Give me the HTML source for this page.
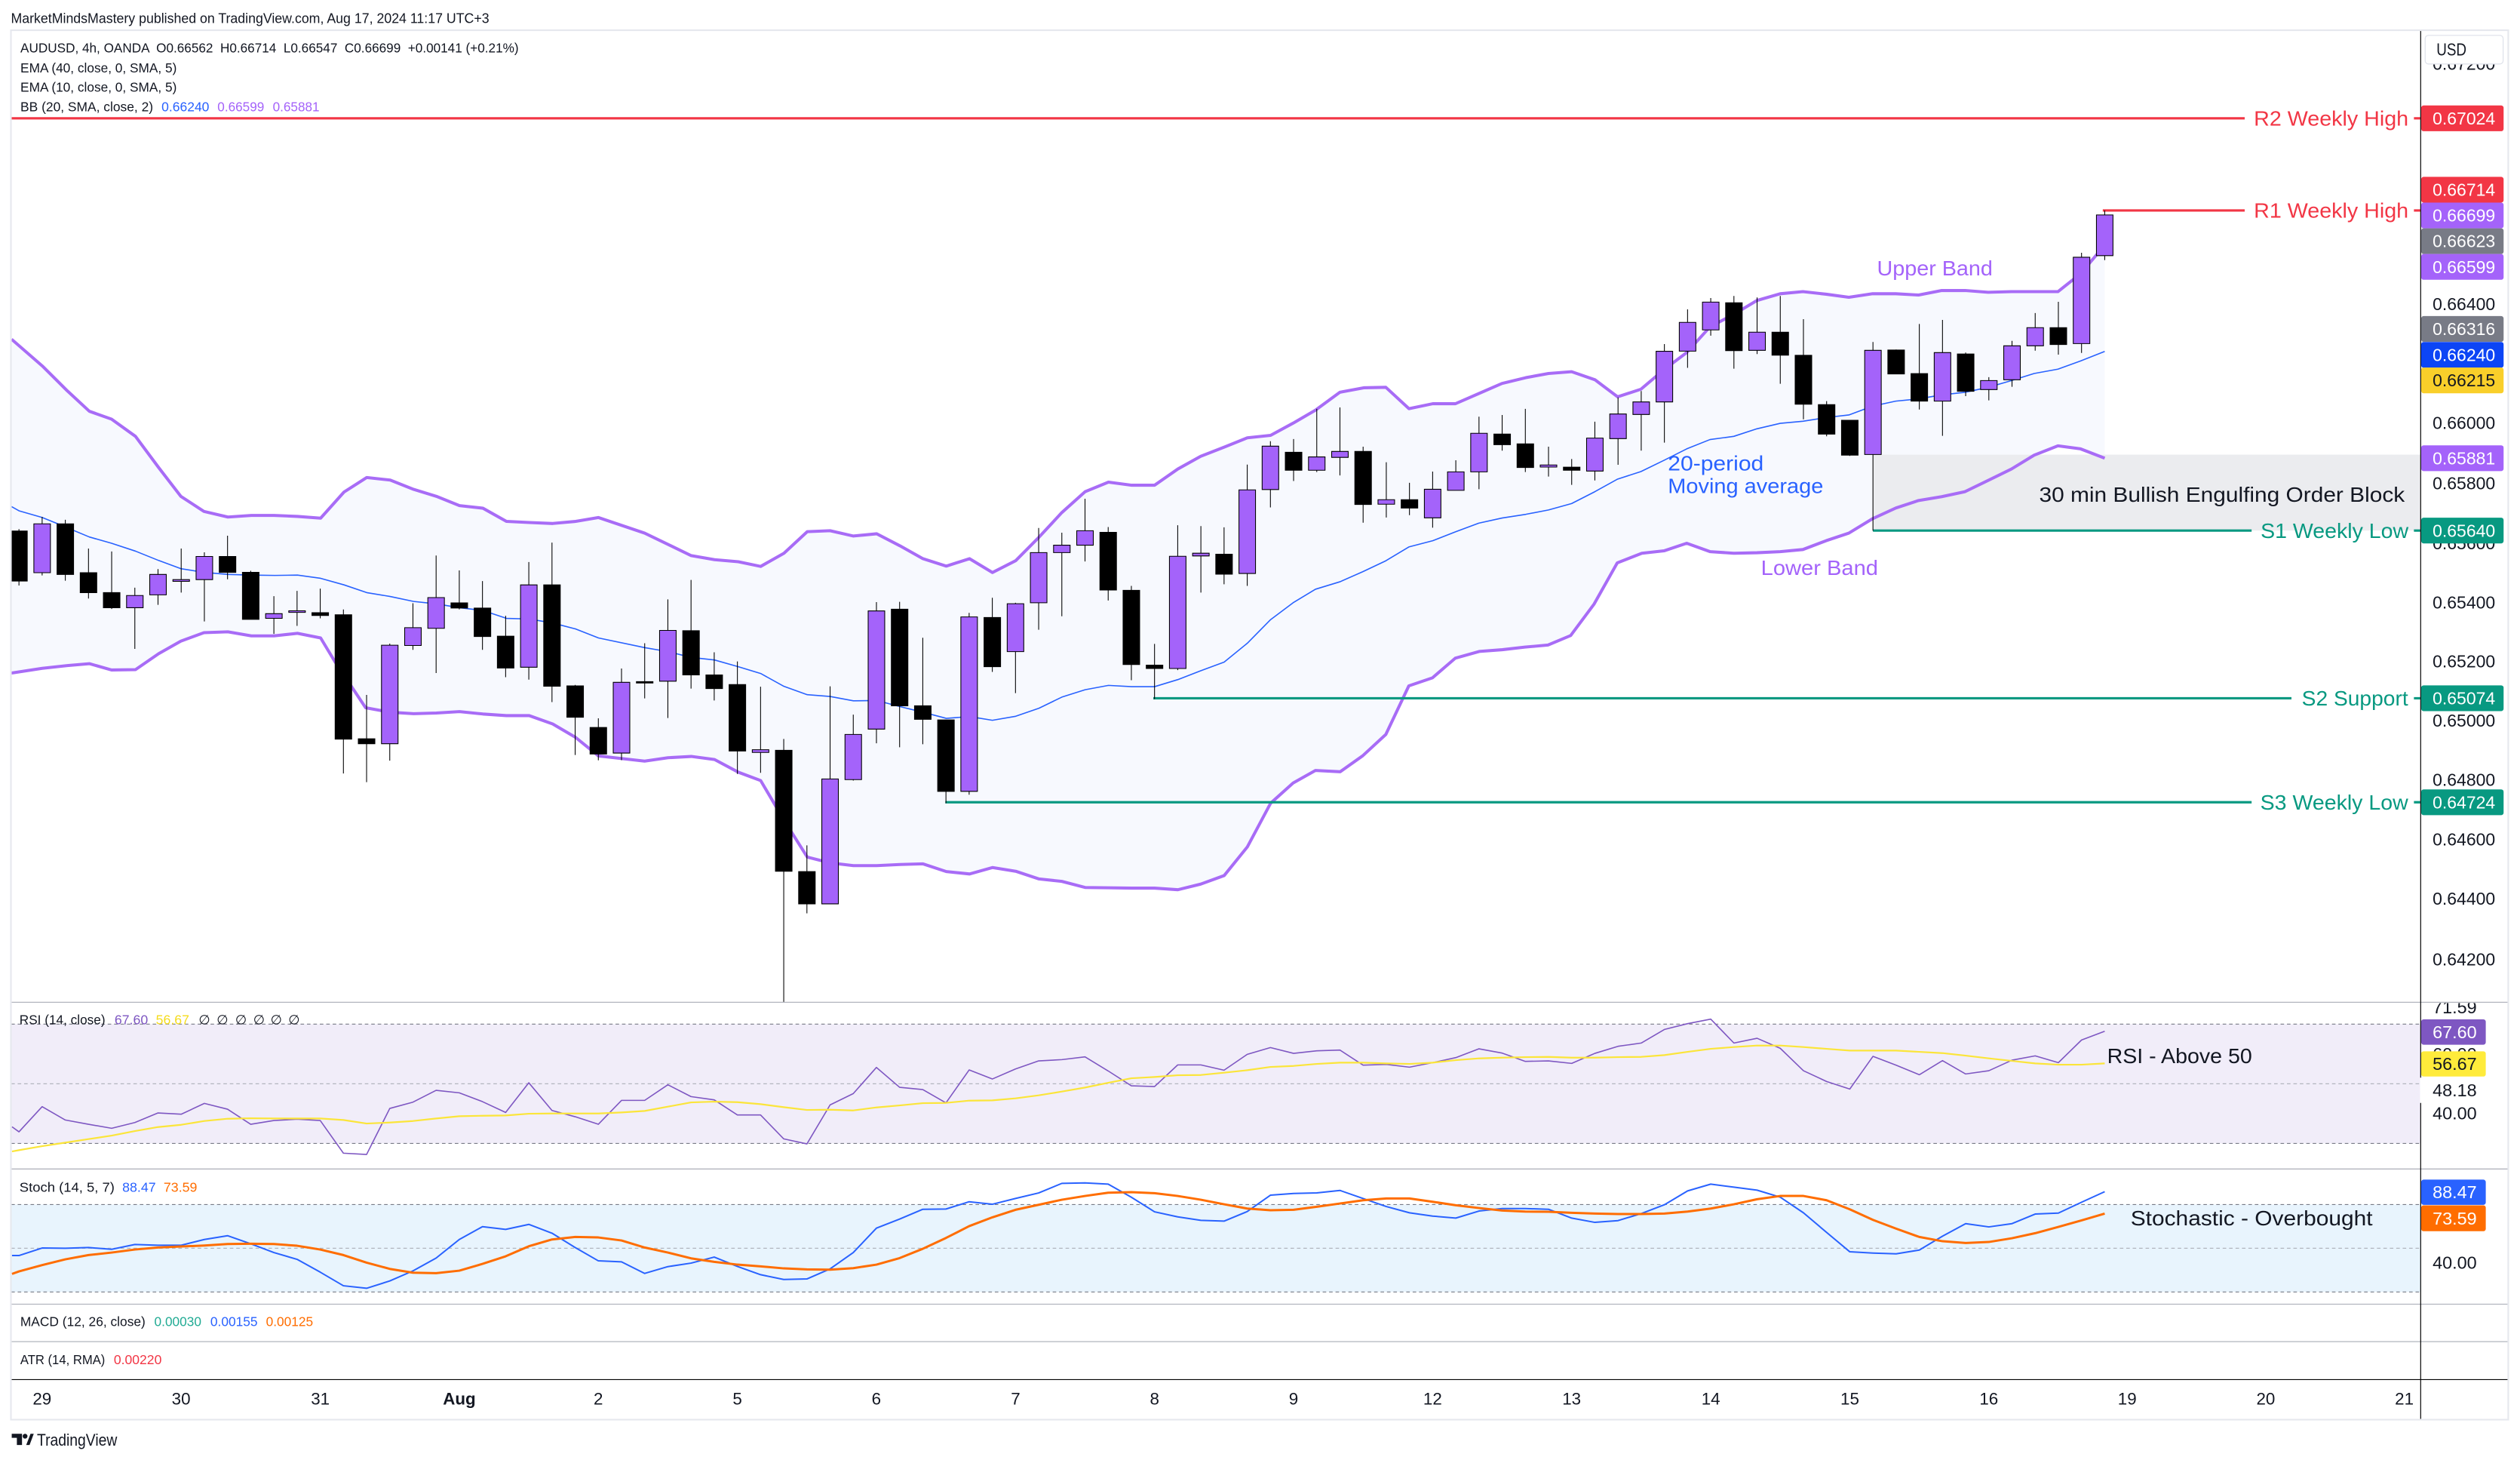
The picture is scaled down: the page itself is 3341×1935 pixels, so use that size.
<!DOCTYPE html>
<html>
<head>
<meta charset="utf-8">
<style>
html,body{margin:0;padding:0;background:#fff;}
svg{display:block;}
text{font-family:"Liberation Sans",Arial,sans-serif;fill:#131722;}
</style>
</head>
<body>
<svg xmlns="http://www.w3.org/2000/svg" width="3341" height="1935" viewBox="0 0 1568 908.1" preserveAspectRatio="none">
<defs>
<clipPath id="mainClip"><rect x="7" y="19" width="1499" height="604.4"/></clipPath>
<clipPath id="subClip"><rect x="7" y="623.4" width="1499" height="235"/></clipPath>
<clipPath id="rsiAxClip"><rect x="1506.5" y="623.9" width="54" height="103"/></clipPath>
</defs>
<rect x="0" y="0" width="1568" height="908.1" fill="#fff"/>

<!-- header -->
<text x="6.8" y="14.3" font-size="8.5" textLength="297.6" lengthAdjust="spacingAndGlyphs">MarketMindsMastery published on TradingView.com, Aug 17, 2024 11:17 UTC+3</text>

<!-- main pane -->
<g clip-path="url(#mainClip)">
<polygon fill="#f7f9fe" points="7.2,211 26.3,227.6 41.9,243.1 55.6,255.8 69.4,260.7 84.3,271.4 98.7,290.8 112.5,308.7 126.9,318.1 141.8,321.6 156.4,320.6 170.5,320.6 185.1,321.2 199.5,322.3 214.1,306 228.2,297 242.8,298.6 257.4,304.4 271.5,308.7 285.9,314.5 300.5,316.1 315.1,324.3 329.3,325 343.9,325.6 358.2,324.3 372.4,321.9 401.1,331.6 430.1,345.6 444.6,348.1 459.4,349.4 473.3,352.3 487.8,344.1 502.3,330.7 516.5,330.1 531,333.4 545.5,332 560,339.5 574.3,347.5 588.8,352.1 603.3,347.5 617.5,356.1 632,348.7 646.5,334.1 660.7,318.8 675.2,305.8 689.7,299.9 704.2,301.8 718.4,301.8 732.9,291.7 747.1,283.8 761.7,278.1 776.1,272.3 790.6,270.8 804.6,263.2 818.5,255.1 833.7,244 848.5,241.2 862.3,240.9 876.7,254.2 891.5,251.1 905.6,251.1 920.1,244.8 934.6,238.5 949.4,234.9 963.5,232.3 977.9,231.2 992.4,236.2 1006.5,246.8 1021,242.1 1035.4,229.9 1049.5,219.3 1064,203.3 1078.8,195.5 1093.2,186.9 1107.7,182.7 1121.8,181.4 1136.3,183 1150.4,184.9 1165.2,182.7 1179.6,182.7 1193.8,183.5 1208.2,180.7 1222.7,180.7 1237.1,181.8 1251.6,181.4 1265.7,181.4 1280.5,181.4 1294.6,170.2 1309.6,152.5 1309.6,285 1294.6,279.2 1280.5,277.3 1265.7,283.1 1251.6,291.7 1237.1,298.8 1222.7,305.8 1208.2,308.9 1193.8,311.3 1179.6,316 1165.2,322.6 1150.4,331.6 1136.3,336.3 1121.8,341.8 1107.7,343.1 1093.2,343.8 1078.8,344.1 1064,343.1 1049.5,337.9 1035.4,342.6 1021.6,344.1 1006.3,350.1 991.9,375.7 977.3,395.3 963.2,401.2 948.8,402.5 934.8,404.1 920.4,405.2 905.5,409.4 891.3,421.6 876.6,426.6 862.3,456.8 847.9,470.1 833.9,480 818.5,479.2 804.6,487 790.6,499.6 776.1,526.8 761.7,544.6 747.1,549.9 732.9,553.4 718.4,552.4 704.2,552.4 689.7,552.2 675.2,552 660.7,548.2 646.5,546.7 632,541.9 617.5,539.6 603.3,543.6 588.8,542.1 574.3,537.3 560,537.7 545.5,538.4 531,538.4 516.5,536.7 502.3,533.1 487.8,510.1 473.3,485.5 459.4,480.3 444.6,472.4 430.1,470.5 415.6,471.3 401.1,473.4 372.4,470.2 358.2,458.7 343.9,450.3 329.3,445.1 315.1,445.1 300.5,444.1 285.9,442.6 271.5,443.5 257.4,443.9 242.8,443 227.5,440.2 208.3,411.4 199.5,396.8 185.1,393.9 170.5,395.5 156.4,395.5 141.8,393 126.9,393.5 112.5,398.8 98.7,406.6 84.3,416.5 69.4,416.7 55.6,412.8 41.9,414 26.3,415.7 7.2,418.6"/>

<!-- order block -->
<rect x="1165.4" y="282.8" width="341" height="47.2" fill="#ebecef"/>

<!-- bands -->
<polyline fill="none" stroke="#a86cf6" stroke-width="1.9" stroke-linejoin="round" points="7.2,211 26.3,227.6 41.9,243.1 55.6,255.8 69.4,260.7 84.3,271.4 98.7,290.8 112.5,308.7 126.9,318.1 141.8,321.6 156.4,320.6 170.5,320.6 185.1,321.2 199.5,322.3 214.1,306 228.2,297 242.8,298.6 257.4,304.4 271.5,308.7 285.9,314.5 300.5,316.1 315.1,324.3 329.3,325 343.9,325.6 358.2,324.3 372.4,321.9 401.1,331.6 430.1,345.6 444.6,348.1 459.4,349.4 473.3,352.3 487.8,344.1 502.3,330.7 516.5,330.1 531,333.4 545.5,332 560,339.5 574.3,347.5 588.8,352.1 603.3,347.5 617.5,356.1 632,348.7 646.5,334.1 660.7,318.8 675.2,305.8 689.7,299.9 704.2,301.8 718.4,301.8 732.9,291.7 747.1,283.8 761.7,278.1 776.1,272.3 790.6,270.8 804.6,263.2 818.5,255.1 833.7,244 848.5,241.2 862.3,240.9 876.7,254.2 891.5,251.1 905.6,251.1 920.1,244.8 934.6,238.5 949.4,234.9 963.5,232.3 977.9,231.2 992.4,236.2 1006.5,246.8 1021,242.1 1035.4,229.9 1049.5,219.3 1064,203.3 1078.8,195.5 1093.2,186.9 1107.7,182.7 1121.8,181.4 1136.3,183 1150.4,184.9 1165.2,182.7 1179.6,182.7 1193.8,183.5 1208.2,180.7 1222.7,180.7 1237.1,181.8 1251.6,181.4 1265.7,181.4 1280.5,181.4 1294.6,170.2 1309.6,152.5"/>
<polyline fill="none" stroke="#a86cf6" stroke-width="1.9" stroke-linejoin="round" points="7.2,418.6 26.3,415.7 41.9,414 55.6,412.8 69.4,416.7 84.3,416.5 98.7,406.6 112.5,398.8 126.9,393.5 141.8,393 156.4,395.5 170.5,395.5 185.1,393.9 199.5,396.8 208.3,411.4 227.5,440.2 242.8,443 257.4,443.9 271.5,443.5 285.9,442.6 300.5,444.1 315.1,445.1 329.3,445.1 343.9,450.3 358.2,458.7 372.4,470.2 401.1,473.4 415.6,471.3 430.1,470.5 444.6,472.4 459.4,480.3 473.3,485.5 487.8,510.1 502.3,533.1 516.5,536.7 531,538.4 545.5,538.4 560,537.7 574.3,537.3 588.8,542.1 603.3,543.6 617.5,539.6 632,541.9 646.5,546.7 660.7,548.2 675.2,552 689.7,552.2 704.2,552.4 718.4,552.4 732.9,553.4 747.1,549.9 761.7,544.6 776.1,526.8 790.6,499.6 804.6,487 818.5,479.2 833.9,480 847.9,470.1 862.3,456.8 876.6,426.6 891.3,421.6 905.5,409.4 920.4,405.2 934.8,404.1 948.8,402.5 963.2,401.2 977.3,395.3 991.9,375.7 1006.3,350.1 1021.6,344.1 1035.4,342.6 1049.5,337.9 1064,343.1 1078.8,344.1 1093.2,343.8 1107.7,343.1 1121.8,341.8 1136.3,336.3 1150.4,331.6 1165.2,322.6 1179.6,316 1193.8,311.3 1208.2,308.9 1222.7,305.8 1237.1,298.8 1251.6,291.7 1265.7,283.1 1280.5,277.3 1294.6,279.2 1309.6,285"/>
<polyline fill="none" stroke="#2962ff" stroke-width="0.75" stroke-linejoin="round" points="7.2,315.1 11.8,317.7 26.3,321.9 36,325.8 55.6,334 69.4,337.9 84.3,342.8 98.7,348.6 112.5,353.7 126.9,356 141.8,357.3 156.4,357.7 171,357.9 185.1,357.7 199.5,359.7 214.1,363.8 228.2,368.6 242.8,371 257.4,374.1 271.5,375.6 285.9,378 300.5,379.7 315.1,384.6 329.3,385 343.9,387.5 358.2,391.2 372.4,396.8 401.1,402.8 415.6,405.3 430.1,408.9 444.6,410.5 459.4,414.7 473.3,418.9 487.8,426.9 502.3,432.1 516.5,433.2 531,435.9 545.5,435.7 560,439.5 574.3,443 588.8,446.8 603.3,445.7 617.5,448 632,445.5 646.5,440.5 660.7,433.6 675.2,429 689.7,426.3 704.2,427.1 718.4,427.1 732.9,422.7 747.1,417.2 761.7,411.8 776.1,400.1 790.6,385.4 804.6,374.9 818.5,366.5 833.9,361.8 847.9,355.6 862.3,348.8 876.6,340.2 891.5,336.3 905.6,330.8 920.1,325.4 934.6,322.2 949.4,319.9 963.5,317.2 977.9,313.2 992.4,305.8 1006.5,298 1021,293.3 1035.4,286.3 1049.5,279.2 1064,273.4 1078.8,271.4 1093.2,266.7 1107.7,263.3 1121.8,262 1136.3,259.7 1150.4,258.1 1165.2,252.6 1179.6,249.5 1193.8,248.1 1208.2,245.6 1222.7,244 1237.1,240.9 1251.6,236.7 1265.7,232.3 1280.5,229.6 1294.6,224.5 1309.6,218.6"/>

<!-- S/R lines -->
<g stroke-width="1.5" fill="none">
<path stroke="#f23645" d="M7 73.6H1396.7M1502 73.6H1506.5"/>
<path stroke="#f23645" d="M1308.4 130.9H1396.7M1502 130.9H1506.5"/>
<path stroke="#089981" d="M1165.4 330H1401M1502 330H1506.5"/>
<path stroke="#089981" d="M717.6 434.3H1425.8M1502 434.3H1506.5"/>
<path stroke="#089981" d="M588.2 499H1401M1502 499H1506.5"/>
</g>

<!-- wicks -->
<path fill="none" stroke="#000" stroke-width="0.5" d="M11.8 329.1V364.2M26.22 321.5V357.9M40.64 323.3V361.2M55.06 341.2V372.3M69.48 343V378.8M83.9 365.5V403.6M98.32 354V376.2M112.74 341.2V368.6M127.16 343.5V386.5M141.58 333.2V360.3M156 355V385.2M170.42 370.8V394.3M184.84 367.5V389.3M199.26 366.1V384.6M213.68 379.1V481.1M228.1 432.2V486.5M242.52 400.3V473.1M256.94 375.2V404.2M271.36 345.5V418.6M285.78 354.8V379M300.2 361.4V404.2M314.62 383V421.2M329.04 349.6V422.7M343.46 337.5V436.7M357.88 426V469.6M372.3 446.8V472.9M386.72 415.8V472.8M401.14 400.1V434.4M415.56 372.8V446.6M429.98 360.7V428.3M444.4 405.7V435.7M458.82 411.4V481.4M473.24 427.1V480.7M487.66 459.6V640M502.08 525.8V568.1M516.5 426.9V562.2M530.92 444.5V485.5M545.34 374.5V462.3M559.76 374.3V464.8M574.18 396.7V462.9M588.6 447.8V499.6M603.02 381.2V494.3M617.44 371.8V417.9M631.86 374.9V431.1M646.28 328.4V391.7M660.7 331.3V383.3M675.12 310.2V349.2M689.54 327.8V373.5M703.96 364.4V423.1M718.38 400.5V434.8M732.8 326.7V416.8M747.22 327.2V368.6M761.64 328V363.4M776.06 289V364.4M790.48 274.4V315.6M804.9 273.1V299.2M819.32 254.3V293.6M833.74 253.4V295.7M848.16 277.8V325.1M862.58 287.5V321.9M877 300.3V320.4M891.42 293.3V328.2M905.84 286.3V305M920.26 259.2V304.3M934.68 258.1V280.3M949.1 254.3V293.6M963.52 277.8V296.4M977.94 285.5V301.6M992.36 262.3V298.8M1006.78 247.2V289.1M1021.2 243.2V280.3M1035.62 214V275.3M1050.04 192.4V228.8M1064.46 185.4V208.8M1078.88 184.1V229.3M1093.3 185V220.2M1107.72 184.1V238.7M1122.14 198.5V260.8M1136.56 249.5V271.4M1150.98 261.4V283.6M1165.4 212.7V330.1M1179.82 217.4V232.6M1194.24 201.5V254.7M1208.66 199V271.1M1223.08 219.3V246.4M1237.5 234.6V249M1251.92 212V240.6M1266.34 194.7V218.1M1280.76 187.7V220.6M1295.18 157.2V219.5M1309.6 130.9V161.8"/>

<!-- black bodies -->
<path fill="#000" stroke="#000" stroke-width="0.5" d="M6.65 330.3h10.3v31.1h-10.3zM35.49 325.8h10.3v31.5h-10.3zM49.91 356.2h10.3v12.4h-10.3zM64.33 368.6h10.3v9.4h-10.3zM136.43 346.1h10.3v9.9h-10.3zM150.85 356h10.3v29.2h-10.3zM194.11 381.1h10.3v1.7h-10.3zM208.53 382.4h10.3v77.3h-10.3zM222.95 459.5h10.3v3.1h-10.3zM280.63 375h10.3v3.2h-10.3zM295.05 378.2h10.3v17.7h-10.3zM309.47 395.7h10.3v19.8h-10.3zM338.31 363.8h10.3v63h-10.3zM352.73 426.6h10.3v19.5h-10.3zM367.15 452.5h10.3v16.5h-10.3zM395.99 424h10.3v0.8h-10.3zM424.83 392.3h10.3v27.5h-10.3zM439.25 419.8h10.3v8.5h-10.3zM453.67 425.8h10.3v41.3h-10.3zM482.51 466.7h10.3v75.2h-10.3zM496.93 542.1h10.3v20.1h-10.3zM554.61 378.9h10.3v60.1h-10.3zM569.03 439h10.3v8.4h-10.3zM583.45 447.8h10.3v44.4h-10.3zM612.29 384.1h10.3v30.6h-10.3zM684.39 331.1h10.3v35.9h-10.3zM698.81 367.2h10.3v46.1h-10.3zM713.23 413.7h10.3v2.1h-10.3zM756.49 344.7h10.3v12.4h-10.3zM799.75 281.3h10.3v11.2h-10.3zM843.01 280.8h10.3v33h-10.3zM871.85 310.8h10.3v5.2h-10.3zM929.53 270h10.3v6.6h-10.3zM943.95 276.1h10.3v14.7h-10.3zM972.79 290.6h10.3v1.9h-10.3zM1073.73 188.3h10.3v29.8h-10.3zM1102.57 206.6h10.3v14.3h-10.3zM1116.99 221h10.3v30.4h-10.3zM1131.41 251.7h10.3v18.3h-10.3zM1145.83 261.4h10.3v21.7h-10.3zM1174.67 217.7h10.3v14.9h-10.3zM1189.09 232.4h10.3v17.1h-10.3zM1217.93 220.2h10.3v23.2h-10.3zM1275.61 203.8h10.3v10.5h-10.3z"/>

<!-- purple bodies -->
<path fill="#a463fa" stroke="#000" stroke-width="0.5" d="M21.07 325.8h10.3v30.4h-10.3zM78.75 370.4h10.3v7.6h-10.3zM93.17 357.3h10.3v12.7h-10.3zM107.59 360.5h10.3v1.1h-10.3zM122.01 346.1h10.3v14.4h-10.3zM165.27 381.7h10.3v2.9h-10.3zM179.69 379.9h10.3v1h-10.3zM237.37 401.3h10.3v61.3h-10.3zM251.79 390.4h10.3v11.1h-10.3zM266.21 371.7h10.3v19.1h-10.3zM323.89 363.8h10.3v51.2h-10.3zM381.57 424.4h10.3v44h-10.3zM410.41 392.1h10.3v31.6h-10.3zM468.09 466.3h10.3v1.7h-10.3zM511.35 484.5h10.3v77.7h-10.3zM525.77 456.8h10.3v28.1h-10.3zM540.19 380h10.3v73.5h-10.3zM597.87 383.7h10.3v108.5h-10.3zM626.71 375.5h10.3v29.8h-10.3zM641.13 343.7h10.3v31.2h-10.3zM655.55 339.1h10.3v4.6h-10.3zM669.97 330.1h10.3v9h-10.3zM727.65 346h10.3v69.8h-10.3zM742.07 344.1h10.3v1.7h-10.3zM770.91 304.7h10.3v52h-10.3zM785.33 277.5h10.3v27h-10.3zM814.17 284.2h10.3v8.3h-10.3zM828.59 280.8h10.3v3.7h-10.3zM857.43 310.8h10.3v2.8h-10.3zM886.27 304.3h10.3v17.8h-10.3zM900.69 293.5h10.3v11.5h-10.3zM915.11 269.5h10.3v24h-10.3zM958.37 289.2h10.3v1.3h-10.3zM987.21 272.5h10.3v20.5h-10.3zM1001.63 257.5h10.3v15.3h-10.3zM1016.05 250h10.3v7.8h-10.3zM1030.47 218.5h10.3v31.5h-10.3zM1044.89 200.5h10.3v17.9h-10.3zM1059.31 187.9h10.3v17.3h-10.3zM1088.15 206.6h10.3v11.3h-10.3zM1160.25 217.9h10.3v64.8h-10.3zM1203.51 219.3h10.3v30.2h-10.3zM1232.35 236.7h10.3v5.6h-10.3zM1246.77 215.1h10.3v21.1h-10.3zM1261.19 203.8h10.3v11.3h-10.3zM1290.03 160h10.3v53.7h-10.3zM1304.45 133.7h10.3v25.3h-10.3z"/>

<!-- annotations -->
<text x="1167.9" y="171.3" font-size="13" style="fill:#a463fa" textLength="72" lengthAdjust="spacingAndGlyphs">Upper Band</text>
<text x="1037.8" y="292.5" font-size="13" style="fill:#2962ff" textLength="59.6" lengthAdjust="spacingAndGlyphs">20-period</text>
<text x="1037.8" y="306.6" font-size="13" style="fill:#2962ff" textLength="96.7" lengthAdjust="spacingAndGlyphs">Moving average</text>
<text x="1095.7" y="357.5" font-size="13" style="fill:#a463fa" textLength="72.9" lengthAdjust="spacingAndGlyphs">Lower Band</text>
<text x="1268.8" y="312" font-size="13" style="fill:#131722" textLength="227.5" lengthAdjust="spacingAndGlyphs">30 min Bullish Engulfing Order Block</text>
<text x="1402.4" y="78.2" font-size="13" style="fill:#f23645" textLength="96.2" lengthAdjust="spacingAndGlyphs">R2 Weekly High</text>
<text x="1402.4" y="135.5" font-size="13" style="fill:#f23645" textLength="96.2" lengthAdjust="spacingAndGlyphs">R1 Weekly High</text>
<text x="1406.6" y="334.6" font-size="13" style="fill:#089981" textLength="92" lengthAdjust="spacingAndGlyphs">S1 Weekly Low</text>
<text x="1432.2" y="438.9" font-size="13" style="fill:#089981" textLength="66.2" lengthAdjust="spacingAndGlyphs">S2 Support</text>
<text x="1406.4" y="503.6" font-size="13" style="fill:#089981" textLength="92" lengthAdjust="spacingAndGlyphs">S3 Weekly Low</text>
</g>

<!-- legend -->
<text x="12.7" y="32.5" font-size="8.1" textLength="310" lengthAdjust="spacingAndGlyphs" xml:space="preserve">AUDUSD, 4h, OANDA  O0.66562  H0.66714  L0.66547  C0.66699  +0.00141 (+0.21%)</text>
<text x="12.7" y="45" font-size="8.1" textLength="97.3" lengthAdjust="spacingAndGlyphs">EMA (40, close, 0, SMA, 5)</text>
<text x="12.7" y="57.1" font-size="8.1" textLength="97.3" lengthAdjust="spacingAndGlyphs">EMA (10, close, 0, SMA, 5)</text>
<text x="12.7" y="69.3" font-size="8.1" textLength="82.6" lengthAdjust="spacingAndGlyphs">BB (20, SMA, close, 2)</text>
<text x="100.5" y="69.3" font-size="8.1" style="fill:#2962ff" textLength="29.7" lengthAdjust="spacingAndGlyphs">0.66240</text>
<text x="135.3" y="69.3" font-size="8.1" style="fill:#a463fa" textLength="29.1" lengthAdjust="spacingAndGlyphs">0.66599</text>
<text x="169.7" y="69.3" font-size="8.1" style="fill:#a463fa" textLength="29.1" lengthAdjust="spacingAndGlyphs">0.65881</text>

<!-- RSI pane -->
<rect x="7" y="637" width="1499" height="74.2" fill="#f1edf9"/>
<g stroke-width="0.55" fill="none" stroke-dasharray="2.2,1.8">
<path stroke="#787b86" d="M7 637H1506M7 711.2H1506"/>
<path stroke="#b2b5be" d="M7 674.1H1506"/>
</g>
<!-- Stoch pane -->
<rect x="7" y="749.2" width="1499" height="54.4" fill="#e8f4fd"/>
<g stroke-width="0.55" fill="none" stroke-dasharray="2.2,1.8">
<path stroke="#787b86" d="M7 749.2H1506M7 803.6H1506"/>
<path stroke="#b2b5be" d="M7 776.4H1506"/>
</g>

<g clip-path="url(#subClip)">
<g transform="translate(11.8,619.5) scale(14.42,0.15644)" fill="none" stroke-linejoin="round">
<polyline vector-effect="non-scaling-stroke" stroke="#7e57c2" stroke-width="1.6" points="-0.3,520 0,540 1,440 2,493 3,510 4,526 5,503 6,465 7,470 8,427 9,450 10,510 11,495 12,490 13,495 14,625 15,630 16,447 17,422 18,375 19,385 20,420 21,463 22,345 23,455 24,480 25,510 26,415 27,415 28,353 29,400 30,413 31,473 32,473 33,568 34,588 35,433 36,388 37,284 38,363 39,372 40,425 41,294 42,330 43,290 44,258 45,253 46,242 47,298 48,357 49,360 50,274 51,274 52,295 53,232 54,205 55,228 56,218 57,215 58,275 59,272 60,283 61,265 62,245 63,210 64,227 65,260 66,258 67,268 68,228 69,200 70,187 71,133 72,110 73,92 74,187 75,168 76,208 77,297 78,340 79,370 80,240 81,275 82,313 83,257 84,310 85,297 86,255 87,238 88,265 89,175 90,140"/>
<polyline vector-effect="non-scaling-stroke" stroke="#fbe53a" stroke-width="2.2" points="-0.3,618 0,613 1,597 2,583 3,569 4,555 5,537 6,521 7,512 8,497 9,488 10,486 11,487 12,487 13,487 14,493 15,507 16,503 17,497 18,487 19,478 20,476 21,475 22,468 23,467 24,467 25,467 26,463 27,457 28,440 29,423 30,420 31,422 32,430 33,442 34,453 35,452 36,455 37,443 38,435 39,426 40,425 41,416 42,415 43,407 44,395 45,380 46,364 47,345 48,327 49,322 50,315 51,314 52,305 53,295 54,282 55,278 56,270 57,265 58,265 59,268 60,270 61,265 62,255 63,248 64,245 65,243 66,242 67,245 68,245 69,243 70,242 71,235 72,222 73,210 74,203 75,197 76,197 77,203 78,210 79,217 80,217 81,217 82,222 83,227 84,237 85,248 86,258 87,268 88,273 89,273 90,268"/>
<polyline vector-effect="non-scaling-stroke" stroke="#2962ff" stroke-width="2" points="-0.3,1032 0,1032 1,1002 2,1003 3,1000 4,1007 5,988 6,991 7,991 8,968 9,953 10,985 11,1020 12,1047 13,1098 14,1152 15,1162 16,1133 17,1093 18,1042 19,968 20,917 21,928 22,908 23,943 24,1000 25,1053 26,1057 27,1103 28,1076 29,1062 30,1038 31,1075 32,1108 33,1127 34,1125 35,1085 36,1020 37,923 38,887 39,848 40,847 41,818 42,828 43,805 44,783 45,745 46,743 47,748 48,800 49,858 50,878 51,892 52,895 53,857 54,792 55,785 56,783 57,773 58,805 59,837 60,862 61,875 62,883 63,855 64,845 65,845 66,848 67,883 68,900 69,893 70,865 71,830 72,775 73,748 74,760 75,772 76,800 77,862 78,940 79,1017 80,1022 81,1025 82,1010 83,955 84,905 85,918 86,905 87,867 88,863 89,820 90,778"/>
<polyline vector-effect="non-scaling-stroke" stroke="#ff6d00" stroke-width="3" points="-0.3,1105 0,1095 1,1070 2,1047 3,1030 4,1020 5,1008 6,1000 7,996 8,992 9,986 10,985 11,986 12,993 13,1008 14,1030 15,1060 16,1085 17,1100 18,1102 19,1092 20,1065 21,1035 22,995 23,968 24,958 25,960 26,972 27,1000 28,1020 29,1043 30,1057 31,1068 32,1075 33,1083 34,1087 35,1088 36,1082 37,1068 38,1042 39,1005 40,962 41,915 42,880 43,850 44,830 45,810 46,795 47,782 48,780 49,784 50,795 51,810 52,828 53,845 54,852 55,850 56,838 57,825 58,812 59,805 60,805 61,818 62,832 63,843 64,853 65,857 66,858 67,862 68,865 69,867 70,867 71,865 72,857 73,845 74,828 75,808 76,795 77,795 78,812 79,848 80,890 81,925 82,958 83,975 84,982 85,978 86,963 87,943 88,918 89,892 90,865"/>
</g>
</g>

<!-- subpane labels -->
<text x="12.1" y="637" font-size="8.1" textLength="53.4" lengthAdjust="spacingAndGlyphs">RSI (14, close)</text>
<text x="71.3" y="637" font-size="8.1" style="fill:#7e57c2" textLength="20.8" lengthAdjust="spacingAndGlyphs">67.60</text>
<text x="97" y="637" font-size="8.1" style="fill:#f5dc1e" textLength="20.8" lengthAdjust="spacingAndGlyphs">56.67</text>
<text x="123.6" y="637" font-size="8.1">∅</text>
<text x="134.8" y="637" font-size="8.1">∅</text>
<text x="146.4" y="637" font-size="8.1">∅</text>
<text x="157.6" y="637" font-size="8.1">∅</text>
<text x="168.3" y="637" font-size="8.1">∅</text>
<text x="179.4" y="637" font-size="8.1">∅</text>
<text x="12.1" y="741.2" font-size="8.1" textLength="59.2" lengthAdjust="spacingAndGlyphs">Stoch (14, 5, 7)</text>
<text x="76.1" y="741.2" font-size="8.1" style="fill:#2962ff" textLength="20.9" lengthAdjust="spacingAndGlyphs">88.47</text>
<text x="101.8" y="741.2" font-size="8.1" style="fill:#ff6d00" textLength="20.9" lengthAdjust="spacingAndGlyphs">73.59</text>
<text x="12.6" y="824.9" font-size="8.1" textLength="77.9" lengthAdjust="spacingAndGlyphs">MACD (12, 26, close)</text>
<text x="96" y="824.9" font-size="8.1" style="fill:#22ab94" textLength="29.3" lengthAdjust="spacingAndGlyphs">0.00030</text>
<text x="130.9" y="824.9" font-size="8.1" style="fill:#2962ff" textLength="29.4" lengthAdjust="spacingAndGlyphs">0.00155</text>
<text x="165.5" y="824.9" font-size="8.1" style="fill:#ff6d00" textLength="29.3" lengthAdjust="spacingAndGlyphs">0.00125</text>
<text x="12.6" y="848.4" font-size="8.1" textLength="52.8" lengthAdjust="spacingAndGlyphs">ATR (14, RMA)</text>
<text x="70.8" y="848.4" font-size="8.1" style="fill:#f23645" textLength="29.8" lengthAdjust="spacingAndGlyphs">0.00220</text>

<text x="1311.1" y="661.2" font-size="13" textLength="90.2" lengthAdjust="spacingAndGlyphs">RSI - Above 50</text>
<text x="1325.7" y="762.2" font-size="13" textLength="150.6" lengthAdjust="spacingAndGlyphs">Stochastic - Overbought</text>

<!-- separators -->
<g fill="none" stroke="#b2b5be" stroke-width="0.6">
<path d="M7 623.4H1560.7M7 727.1H1560.7M7 811.2H1560.7M7 834.5H1560.7"/>
</g>
<path d="M7 858.1H1560.7" stroke="#000" stroke-width="0.55" fill="none"/>

<!-- price axis ticks -->
<g font-size="10.8">
<text x="1513.6" y="43.3" textLength="39" lengthAdjust="spacingAndGlyphs">0.67200</text>
<text x="1513.6" y="192.8" textLength="39" lengthAdjust="spacingAndGlyphs">0.66400</text>
<text x="1513.6" y="266.8" textLength="39" lengthAdjust="spacingAndGlyphs">0.66000</text>
<text x="1513.6" y="304.4" textLength="39" lengthAdjust="spacingAndGlyphs">0.65800</text>
<text x="1513.6" y="341.6" textLength="39" lengthAdjust="spacingAndGlyphs">0.65600</text>
<text x="1513.6" y="378.4" textLength="39" lengthAdjust="spacingAndGlyphs">0.65400</text>
<text x="1513.6" y="415.2" textLength="39" lengthAdjust="spacingAndGlyphs">0.65200</text>
<text x="1513.6" y="452" textLength="39" lengthAdjust="spacingAndGlyphs">0.65000</text>
<text x="1513.6" y="488.8" textLength="39" lengthAdjust="spacingAndGlyphs">0.64800</text>
<text x="1513.6" y="525.8" textLength="39" lengthAdjust="spacingAndGlyphs">0.64600</text>
<text x="1513.6" y="562.8" textLength="39" lengthAdjust="spacingAndGlyphs">0.64400</text>
<text x="1513.6" y="600.4" textLength="39" lengthAdjust="spacingAndGlyphs">0.64200</text>
</g>

<!-- USD box -->
<rect x="1509" y="22" width="48.5" height="17.8" rx="2" fill="#fff" stroke="#e0e3eb" stroke-width="0.6"/>
<text x="1516" y="34.6" font-size="10.8" textLength="18.7" lengthAdjust="spacingAndGlyphs">USD</text>

<!-- price axis boxes -->
<g font-size="10.8">
<rect x="1506.5" y="65.6" width="51.3" height="16" rx="1.5" fill="#f23645"/>
<text x="1513.6" y="77.4" style="fill:#fff" textLength="39" lengthAdjust="spacingAndGlyphs">0.67024</text>
<rect x="1506.5" y="110" width="51.3" height="16" rx="1.5" fill="#f23645"/>
<text x="1513.6" y="121.8" style="fill:#fff" textLength="39" lengthAdjust="spacingAndGlyphs">0.66714</text>
<rect x="1506.5" y="126" width="51.3" height="16" rx="1.5" fill="#a463fa"/>
<text x="1513.6" y="137.8" style="fill:#fff" textLength="39" lengthAdjust="spacingAndGlyphs">0.66699</text>
<rect x="1506.5" y="142" width="51.3" height="16" rx="1.5" fill="#787b86"/>
<text x="1513.6" y="153.8" style="fill:#fff" textLength="39" lengthAdjust="spacingAndGlyphs">0.66623</text>
<rect x="1506.5" y="158" width="51.3" height="16" rx="1.5" fill="#a463fa"/>
<text x="1513.6" y="169.8" style="fill:#fff" textLength="39" lengthAdjust="spacingAndGlyphs">0.66599</text>
<rect x="1506.5" y="196.6" width="51.3" height="16" rx="1.5" fill="#787b86"/>
<text x="1513.6" y="208.4" style="fill:#fff" textLength="39" lengthAdjust="spacingAndGlyphs">0.66316</text>
<rect x="1506.5" y="212.7" width="51.3" height="16" rx="1.5" fill="#0c45f5"/>
<text x="1513.6" y="224.5" style="fill:#fff" textLength="39" lengthAdjust="spacingAndGlyphs">0.66240</text>
<rect x="1506.5" y="228.6" width="51.3" height="16" rx="1.5" fill="#f9cf2a"/>
<text x="1513.6" y="240.4" style="fill:#131722" textLength="39" lengthAdjust="spacingAndGlyphs">0.66215</text>
<rect x="1506.5" y="277" width="51.3" height="16" rx="1.5" fill="#a463fa"/>
<text x="1513.6" y="288.8" style="fill:#fff" textLength="39" lengthAdjust="spacingAndGlyphs">0.65881</text>
<rect x="1506.5" y="322" width="51.3" height="16" rx="1.5" fill="#089981"/>
<text x="1513.6" y="333.8" style="fill:#fff" textLength="39" lengthAdjust="spacingAndGlyphs">0.65640</text>
<rect x="1506.5" y="426.3" width="51.3" height="16" rx="1.5" fill="#089981"/>
<text x="1513.6" y="438.1" style="fill:#fff" textLength="39" lengthAdjust="spacingAndGlyphs">0.65074</text>
<rect x="1506.5" y="491" width="51.3" height="16" rx="1.5" fill="#089981"/>
<text x="1513.6" y="502.8" style="fill:#fff" textLength="39" lengthAdjust="spacingAndGlyphs">0.64724</text>
</g>

<!-- RSI axis -->
<g font-size="10.8" clip-path="url(#rsiAxClip)">
<text x="1513.6" y="630.3" textLength="27.5" lengthAdjust="spacingAndGlyphs">71.59</text>
</g>
<g font-size="10.8">
<rect x="1506.5" y="634" width="40.2" height="15.8" rx="1.5" fill="#7e57c2"/>
<text x="1513.6" y="645.7" style="fill:#fff" textLength="27.5" lengthAdjust="spacingAndGlyphs">67.60</text>
<text x="1513.6" y="659.4" textLength="27.5" lengthAdjust="spacingAndGlyphs">60.00</text>
<rect x="1506.5" y="653.9" width="40.2" height="15.7" rx="1.5" fill="#ffeb3b"/>
<text x="1513.6" y="665.5" style="fill:#131722" textLength="27.5" lengthAdjust="spacingAndGlyphs">56.67</text>
<rect x="1506.8" y="670.3" width="40" height="15.7" fill="#fff"/>
<text x="1513.6" y="681.8" textLength="27.5" lengthAdjust="spacingAndGlyphs">48.18</text>
<text x="1513.6" y="696.3" textLength="27.5" lengthAdjust="spacingAndGlyphs">40.00</text>
<rect x="1506.5" y="733.7" width="40.2" height="15.7" rx="1.5" fill="#2962ff"/>
<text x="1513.6" y="745.3" style="fill:#fff" textLength="27.5" lengthAdjust="spacingAndGlyphs">88.47</text>
<rect x="1506.5" y="749.7" width="40.2" height="16.1" rx="1.5" fill="#ff6d00"/>
<text x="1513.6" y="761.6" style="fill:#fff" textLength="27.5" lengthAdjust="spacingAndGlyphs">73.59</text>
<text x="1513.6" y="789.1" textLength="27.5" lengthAdjust="spacingAndGlyphs">40.00</text>
</g>

<!-- price axis line -->
<path d="M1506.2 18.8V883" stroke="#000" stroke-width="0.55" fill="none"/>
<path d="M1506.2 670.3V686" stroke="#fff" stroke-width="0.8" fill="none"/>

<!-- time axis -->
<g font-size="10.5" text-anchor="middle">
<text x="26.2" y="873.7">29</text>
<text x="112.7" y="873.7">30</text>
<text x="199.3" y="873.7">31</text>
<text x="285.8" y="873.7" font-weight="bold">Aug</text>
<text x="372.3" y="873.7">2</text>
<text x="458.8" y="873.7">5</text>
<text x="545.3" y="873.7">6</text>
<text x="631.9" y="873.7">7</text>
<text x="718.4" y="873.7">8</text>
<text x="804.9" y="873.7">9</text>
<text x="891.4" y="873.7">12</text>
<text x="977.9" y="873.7">13</text>
<text x="1064.5" y="873.7">14</text>
<text x="1151" y="873.7">15</text>
<text x="1237.5" y="873.7">16</text>
<text x="1323.6" y="873.7">19</text>
<text x="1409.8" y="873.7">20</text>
<text x="1496" y="873.7">21</text>
</g>

<!-- frame -->
<rect x="6.8" y="18.8" width="1553.9" height="864.2" fill="none" stroke="#e6e8ee" stroke-width="1"/>

<!-- TradingView logo -->
<path d="M7.3 891.8h6.4v7h-3.2v-4.5h-3.2z" fill="#131722"/>
<circle cx="15.6" cy="893.3" r="1.5" fill="#131722"/>
<path d="M16.3 898.8L19 891.8H21L18.4 898.8z" fill="#131722"/>
<text x="23" y="899.2" font-size="10.2" textLength="49.9" lengthAdjust="spacingAndGlyphs">TradingView</text>
</svg>
</body>
</html>
